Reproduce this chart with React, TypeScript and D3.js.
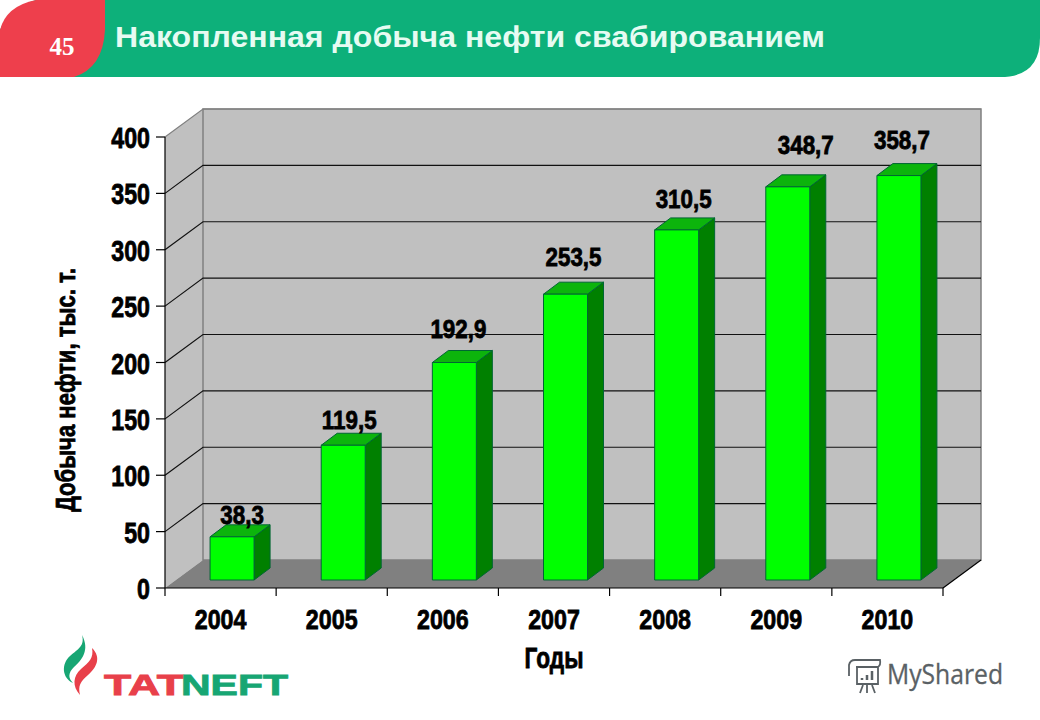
import React from 'react';
import * as d3 from 'd3';

const years = ['2004', '2005', '2006', '2007', '2008', '2009', '2010'];
const values = [38.3, 119.5, 192.9, 253.5, 310.5, 348.7, 358.7];
const valueLabels = ['38,3', '119,5', '192,9', '253,5', '310,5', '348,7', '358,7'];
const yTicks = [0, 50, 100, 150, 200, 250, 300, 350, 400];
// the labels sit unevenly in the source chart
const labelDx = [10, 6, 4, 8, 7, 18, 3];
const labelDy = [-1, -4, -13, -16, -10, -21, -15];

const W = 1040;
const H = 720;
const wallDx = 38;
const wallDy = -28;
const barPlaneDx = 11.5;
const barPlaneDy = -8;
const sideDx = 16;
const sideDy = -12;
const barW = 44;

const x = d3.scaleBand<string>().domain(years).range([165, 943]);
const y = d3.scaleLinear().domain([0, 400]).range([588, 137]);

const arial = '"Liberation Sans", Arial, sans-serif';

const pts = (p: number[][]) => p.map(d => d.join(',')).join(' ');

// no condensed bold face is installed, so squeeze Liberation Sans Bold
const Squeezed: React.FC<{ x: number; y: number; size: number; sx?: number; anchor?: string; children: React.ReactNode }> = ({ x, y, size, sx = 0.78, anchor = 'middle', children }) => (
  <text
    transform={`translate(${x},${y}) scale(${sx},1)`}
    textAnchor={anchor as any}
    fontFamily={arial}
    fontWeight="bold"
    fontSize={size}
    stroke="#000"
    strokeWidth={0.8}
  >
    {children}
  </text>
);

const App: React.FC = () => {
  const x0 = x.range()[0];
  const x1 = x.range()[1];
  const y0 = y(0);
  const yTop = y(400);

  return (
    <svg width={W} height={H} style={{ position: 'absolute', left: 0, top: 0, background: '#fff' }}>
      {/* header */}
      <path d="M0,0 H1040 V38 Q1040,77 1000,77 H0 Z" fill="#0db07a" />
      <path d="M0,0 H36 Q8,8 0,30 Z" fill="#fff" />
      <path d="M0,30 Q6,6 36,0 H105 V30 Q103,68 74,77 H0 Z" fill="#ee3f4c" />
      <text x={62} y={55} textAnchor="middle" fill="#fff" fontFamily='"Liberation Serif", serif' fontWeight="bold" fontSize={25}>45</text>
      <text x={115} y={47} fill="#e6fbf2" fontFamily={arial} fontWeight="bold" fontSize={30} textLength={710} lengthAdjust="spacingAndGlyphs">Накопленная добыча нефти свабированием</text>

      {/* walls and floor */}
      <polygon points={pts([[x0, yTop], [x0 + wallDx, yTop + wallDy], [x0 + wallDx, y0 + wallDy], [x0, y0]])} fill="#c0c0c0" />
      <rect x={x0 + wallDx} y={yTop + wallDy} width={x1 - x0} height={y0 - yTop} fill="#c0c0c0" stroke="#808080" strokeWidth={1.5} />
      <polygon points={pts([[x0, y0], [x0 + wallDx, y0 + wallDy], [x1 + wallDx, y0 + wallDy], [x1, y0]])} fill="#808080" />

      {/* gridlines */}
      {yTicks.filter(t => t > 0).map(t => (
        <polyline
          key={t}
          points={pts([[x0, y(t)], [x0 + wallDx, y(t) + wallDy], [x1 + wallDx, y(t) + wallDy]])}
          fill="none"
          stroke={t === 400 ? '#808080' : '#111'}
          strokeWidth={1.2}
        />
      ))}

      {/* axes */}
      <line x1={x0} y1={yTop} x2={x0} y2={y0} stroke="#000" strokeWidth={1.2} />
      <line x1={x0} y1={y0} x2={x1} y2={y0} stroke="#000" strokeWidth={1.2} />
      <line x1={x1} y1={y0} x2={x1 + wallDx} y2={y0 + wallDy} stroke="#000" strokeWidth={1.2} />
      {yTicks.map(t => (
        <g key={t}>
          <line x1={x0 - 9} y1={y(t)} x2={x0} y2={y(t)} stroke="#000" strokeWidth={1.2} />
          <Squeezed x={150} y={y(t) + 11} size={29} sx={0.8} anchor="end">{t}</Squeezed>
        </g>
      ))}
      {[...years, ''].map((d, i) => (
        <line key={i} x1={x0 + i * x.step()} y1={y0} x2={x0 + i * x.step()} y2={y0 + 8} stroke="#000" strokeWidth={1.2} />
      ))}
      {years.map(d => (
        <Squeezed key={d} x={(x(d) as number) + x.bandwidth() / 2} y={629} size={28} sx={0.83}>{d}</Squeezed>
      ))}

      {/* bars */}
      {years.map((d, i) => {
        const l = (x(d) as number) + x.bandwidth() / 2 + barPlaneDx - barW / 2;
        const r = l + barW;
        const b = y0 + barPlaneDy;
        const t = y(values[i]) + barPlaneDy;
        return (
          <g key={d} stroke="#063" strokeWidth={1} strokeLinejoin="round">
            <polygon points={pts([[r, t], [r + sideDx, t + sideDy], [r + sideDx, b + sideDy], [r, b]])} fill="#008000" />
            <polygon points={pts([[l, t], [l + sideDx, t + sideDy], [r + sideDx, t + sideDy], [r, t]])} fill="#0cb40c" />
            <rect x={l} y={t} width={barW} height={b - t} fill="#00ff00" />
          </g>
        );
      })}

      {/* value labels */}
      {years.map((d, i) => {
        const cx = (x(d) as number) + x.bandwidth() / 2 + barPlaneDx + labelDx[i];
        const top = y(values[i]) + barPlaneDy + sideDy;
        return (
          <Squeezed key={d} x={cx} y={top + labelDy[i]} size={26} sx={0.86}>{valueLabels[i]}</Squeezed>
        );
      })}

      {/* axis titles */}
      <text transform="translate(75,390) rotate(-90)" textAnchor="middle" fontFamily={arial} fontWeight="bold" fontSize={28} stroke="#000" strokeWidth={0.8} textLength={244} lengthAdjust="spacingAndGlyphs">Добыча нефти, тыс. т.</text>
      <Squeezed x={554} y={668} size={29}>Годы</Squeezed>

      {/* logo */}
      <path d="M82,635 C90,650 82,660 74,667 C68,673 68,678 73,683 C62,678 61,664 70,656 C78,649 85,646 82,635 Z" fill="#17a673" />
      <path d="M92,648 C102,658 96,668 88,675 C80,682 78,686 80,695 C72,686 73,676 81,669 C89,662 94,658 92,648 Z" fill="#e8404a" />
      <text x={104} y={695} fill="#e8404a" fontFamily={arial} fontWeight="bold" fontSize={29} textLength={80} lengthAdjust="spacingAndGlyphs" stroke="#e8404a" strokeWidth={0.8}>TAT</text>
      <text x={181} y={695} fill="#17a673" fontFamily={arial} fontWeight="bold" fontSize={29} textLength={107} lengthAdjust="spacingAndGlyphs" stroke="#17a673" strokeWidth={0.8}>NEFT</text>

      {/* watermark */}
      <g fill="none" stroke="#5a6165" strokeWidth={1.8}>
        <path d="M849,676 V665 Q850,660 855,660 H880 Q881,665 878,667 H856 M857,667 V684 H878 V667 M860,693 L863,685 M867,685 V693 M872,685 L875,693" />
        <path d="M862,680 V678 M867,680 V675 M872,680 V671" strokeWidth={2.5} />
      </g>
      <text x={887} y={684} fill="#5a6165" stroke="#5a6165" strokeWidth={0.3} fontFamily='"Open Sans", sans-serif' fontSize={27} textLength={116} lengthAdjust="spacingAndGlyphs">MyShared</text>
    </svg>
  );
};

export default App;
